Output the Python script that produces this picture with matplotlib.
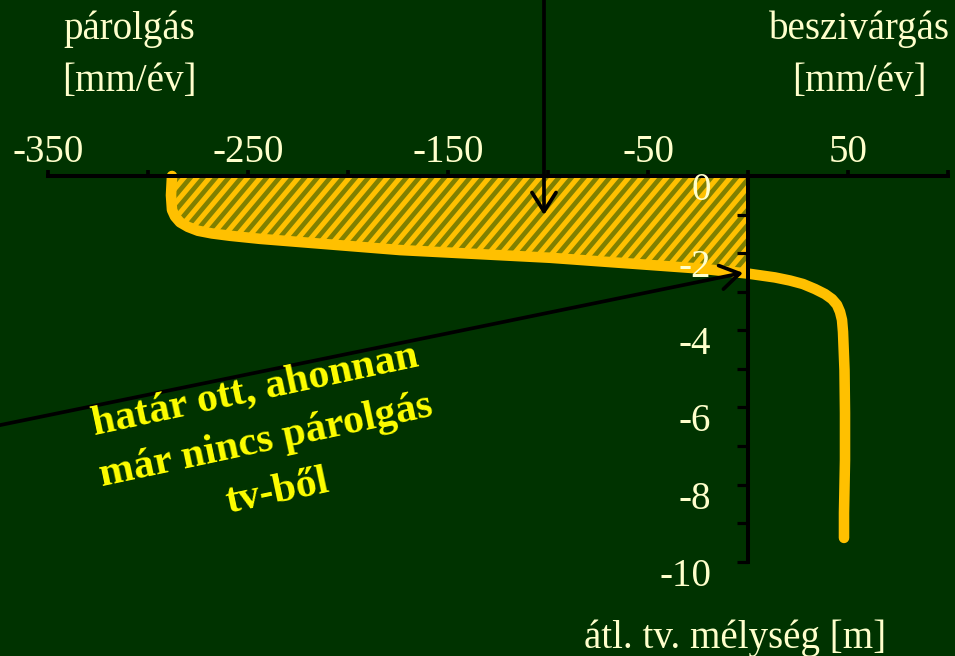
import numpy as np
import matplotlib
matplotlib.use("Agg")
import matplotlib.pyplot as plt
import matplotlib.transforms as mtransforms
from matplotlib.ticker import FixedLocator

# Flux profile vs. mean groundwater depth
# negative = evaporation, positive = infiltration [mm/year]
flux = [-288, -288.5, -288, -286.5, -284, -280, -275, -268, -259, -244, -174, -99, -24, 0,
        13.5, 21, 27.5, 33.5, 38.5, 42, 44.5, 46, 47, 47.5, 48.25, 48.5, 48.5, 48, 48]
depth = [0, -0.5, -0.88, -1.05, -1.2, -1.32, -1.42, -1.49, -1.55, -1.63, -1.92, -2.12, -2.40, -2.53,
         -2.63, -2.71, -2.80, -2.93, -3.06, -3.19, -3.34, -3.52, -3.73, -4.04, -5.03, -6.14, -7.36,
         -8.73, -9.38]

flux_ticks = [-350, -300, -250, -200, -150, -100, -50, 0, 50, 100]
flux_labels = [-350, -250, -150, -50, 50]
depth_ticks = [0, -1, -2, -3, -4, -5, -6, -7, -8, -9, -10]
depth_labels = [0, -2, -4, -6, -8, -10]

BG = "#003300"
CREAM = "#FFFFCC"
GOLD = "#FFC000"
OLIVE = "#808000"

DPI = 76
plt.rcParams["font.family"] = ["Liberation Serif", "DejaVu Serif"]

fig = plt.figure(figsize=(955 / DPI, 656 / DPI), dpi=DPI, facecolor=BG)
ax = fig.add_axes([0, 0, 1, 1], facecolor=BG)
ax.set_xlim(-374, 103.5)
ax.set_ylim(-12.44, 4.56)
ax.set_axisbelow(False)

# evaporation zone between the surface and the curve, olive with gold stripes
fx = [f for f in flux if f <= 0] + [0]
fy = [d for f, d in zip(flux, depth) if f <= 0] + [0]
zone = ax.fill(fx, fy, facecolor=OLIVE, linewidth=0, zorder=1)[0]
slope = np.tan(np.radians(50))
step = 12.7 * slope  # ~12.7 px apart along x
for c in np.arange(-1300, 700, step):
    ln, = ax.plot([0, 960], [c, c + 960 * slope], transform=mtransforms.IdentityTransform(),
                  color=GOLD, lw=4.8, zorder=1.1)
    ln.set_clip_path(zone)

ax.plot(flux, depth, color=GOLD, lw=10, solid_capstyle="round",
        solid_joinstyle="round", zorder=2)

# axes through the origin
for side in ["bottom", "right"]:
    ax.spines[side].set_visible(False)
ax.spines["top"].set_position(("data", 0))
ax.spines["top"].set_bounds(-350, 100)
ax.spines["left"].set_position(("data", 0))
ax.spines["left"].set_bounds(-10, 0)
for side in ["top", "left"]:
    ax.spines[side].set_linewidth(3.8)
    ax.spines[side].set_color("black")
    ax.spines[side].set_zorder(2.5)

ax.xaxis.set_ticks_position("top")
ax.xaxis.set_major_locator(FixedLocator(flux_labels))
ax.xaxis.set_minor_locator(FixedLocator([t for t in flux_ticks if t not in flux_labels]))
ax.set_xticklabels([str(v) for v in flux_labels])
ax.yaxis.set_major_locator(FixedLocator(depth_labels))
ax.yaxis.set_minor_locator(FixedLocator([t for t in depth_ticks if t not in depth_labels]))
ax.set_yticklabels([str(v) for v in depth_labels])

ax.tick_params(axis="x", which="both", direction="out", length=6, width=3.5,
               color="black", pad=-1.5, labelsize=37, labelcolor=CREAM)
ax.tick_params(axis="y", which="both", direction="out", length=10, width=3,
               color="black", pad=25, labelsize=37, labelcolor=CREAM)

# depth labels sit a little below their ticks
offset = mtransforms.ScaledTranslation(0, -10 / DPI, fig.dpi_scale_trans)
for lab in ax.get_yticklabels():
    lab.set_transform(lab.get_transform() + offset)

# axis titles
ax.text(0.135, 0.916, "párolgás\n[mm/év]", transform=ax.transAxes, ha="center",
        va="center", fontsize=37, color=CREAM, linespacing=1.55)
ax.text(0.90, 0.916, "beszivárgás\n[mm/év]", transform=ax.transAxes, ha="center",
        va="center", fontsize=37, color=CREAM, linespacing=1.55)
ax.text(0.770, 0.027, "átl. tv. mélység [m]", transform=ax.transAxes, ha="center",
        va="center", fontsize=37, color=CREAM)

# arrows
arrow = dict(arrowstyle="->,head_length=0.6,head_width=0.38", lw=3.5, color="black",
             shrinkA=0, shrinkB=0, mutation_scale=30)
ax.annotate("", xy=(-102, -1.01), xytext=(-102, 5.0), arrowprops=arrow, zorder=3)
ax.annotate("", xy=(-2.5, -2.51), xytext=(-380, -6.52), arrowprops=arrow, zorder=3)

ax.text(-240.75, -6.88, "határ ott, ahonnan\nmár nincs párolgás\ntv-ből",
        ha="center", va="center", rotation=12, rotation_mode="anchor",
        fontsize=39.5, fontweight="bold", color="#FFFF00", linespacing=1.5)

fig.savefig("out.png", dpi=DPI, facecolor=BG)
